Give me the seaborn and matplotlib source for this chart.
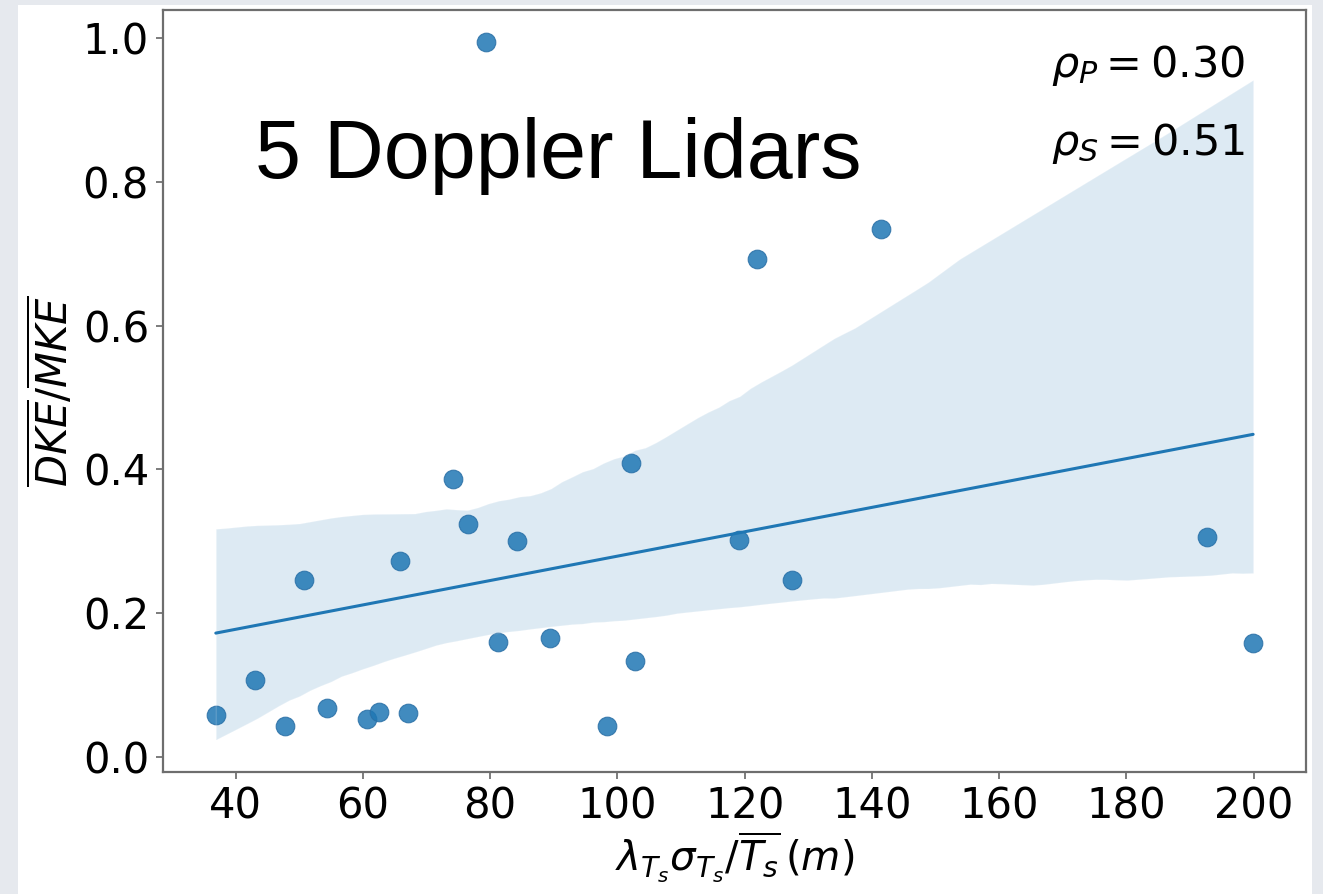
import numpy as np
import pandas as pd
import matplotlib
matplotlib.use("Agg")
import matplotlib.pyplot as plt
from matplotlib.patches import Rectangle
import seaborn as sns

# Length-scale ratio (m) and dispersive-to-mean kinetic energy ratio per case
length_scale = [36.9, 43.0, 47.8, 50.7, 54.3, 60.6, 62.5, 67.1, 65.8, 74.1,
                76.5, 84.2, 81.3, 89.4, 98.3, 102.2, 102.8, 119.1, 121.9,
                127.4, 141.5, 192.6, 199.9, 79.3]
energy_ratio = [0.058, 0.107, 0.043, 0.246, 0.068, 0.052, 0.063, 0.061, 0.273,
                0.387, 0.324, 0.300, 0.160, 0.165, 0.043, 0.409, 0.134, 0.302,
                0.693, 0.246, 0.734, 0.306, 0.159, 0.994]

x_ticks = [40, 60, 80, 100, 120, 140, 160, 180, 200]
y_ticks = [0.0, 0.2, 0.4, 0.6, 0.8, 1.0]
corr_labels = [r"$\rho_P = 0.30$", r"$\rho_S = 0.51$"]
title_text = "5 Doppler Lidars"

df = pd.DataFrame({"x": length_scale, "y": energy_ratio})

sns.set_style("white")
plt.rcParams["mathtext.fontset"] = "dejavusans"
plt.rcParams["text.color"] = "black"
plt.rcParams["axes.labelcolor"] = "black"
plt.rcParams["xtick.labelcolor"] = "black"
plt.rcParams["ytick.labelcolor"] = "black"

fig = plt.figure(figsize=(13.23, 8.94), dpi=100, facecolor="#e6e9ee")
panel = Rectangle((0.0136, 0.0), 0.9781, 0.9944, transform=fig.transFigure,
                  facecolor="white", edgecolor="none", zorder=-10)
fig.add_artist(panel)
ax = fig.add_axes([0.1232, 0.1365, 0.8639, 0.8523])

sns.regplot(data=df, x="x", y="y", ax=ax, color="#1f77b4", seed=11,
            scatter_kws={"s": 180, "alpha": 0.85, "edgecolors": "#2a6fa6",
                         "linewidths": 0.8},
            line_kws={"lw": 2.2})

ax.set_xlim(28.6, 208.2)
ax.set_ylim(-0.021, 1.039)
ax.set_xticks(x_ticks)
ax.set_yticks(y_ticks)
ax.set_yticklabels([f"{v:.1f}" for v in y_ticks])
ax.tick_params(axis="both", labelsize=30, length=5, width=1.2,
               color="#666666", direction="out", pad=5, bottom=True, left=True)
for sp in ax.spines.values():
    sp.set_color("#6e6e6e")
    sp.set_linewidth(1.6)

ax.set_xlabel(r"$\lambda_{T_s}\sigma_{T_s}/\overline{T_s}\,(m)$", fontsize=29,
              labelpad=1)
ax.set_ylabel(r"$\overline{DKE}/\overline{MKE}$", fontsize=30, labelpad=4)

ax.text(0.9466, 0.927, corr_labels[0], transform=ax.transAxes, ha="right",
        va="center", fontsize=31)
ax.text(0.9466, 0.825, corr_labels[1], transform=ax.transAxes, ha="right",
        va="center", fontsize=31)
ax.text(0.0805, 0.7795, title_text, transform=ax.transAxes, ha="left",
        va="baseline", fontsize=59.5, family="Liberation Sans")

fig.savefig("out.png", dpi=100, facecolor=fig.get_facecolor())
